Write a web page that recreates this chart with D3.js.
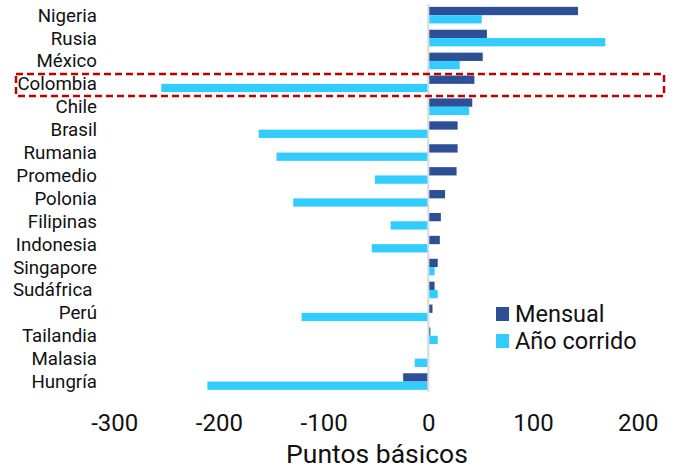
<!DOCTYPE html>
<html>
<head>
<meta charset="utf-8">
<script src="https://cdn.jsdelivr.net/npm/d3@7/dist/d3.min.js"></script>
<style>
  html, body { margin: 0; padding: 0; background: #ffffff; }
  svg { display: block; font-family: Roboto, "Noto Sans", sans-serif; }
</style>
</head>
<body>
<svg id="chart" width="676" height="469"></svg>
<script>
// Change in basis points by country
const countries = ["Nigeria", "Rusia", "México", "Colombia", "Chile", "Brasil", "Rumania",
  "Promedio", "Polonia", "Filipinas", "Indonesia", "Singapore", "Sudáfrica\u00a0", "Perú",
  "Tailandia", "Malasia", "Hungría"];
const mensual = [143, 56, 52, 44, 42, 28, 28, 27, 16, 12, 11, 9, 6, 4, 2, 0, -24];
const anoCorrido = [51, 169, 30, -255, 39, -162, -145, -51, -129, -36, -54, 6, 9, -121, 9, -13, -211];
const seriesNames = ["Mensual", "Año corrido"];
const seriesColors = ["#2C4F96", "#33CCFF"];
const xTicks = [-300, -200, -100, 0, 100, 200];
const highlighted = "Colombia";

const svg = d3.select("#chart");

const x = d3.scaleLinear().domain([-300, 200]).range([114.2, 637.7]);
const y = d3.scaleBand().domain(countries).range([3.7, 393]).paddingInner(0.275).paddingOuter(0.1375);
const sub = d3.scaleBand().domain(seriesNames).range([0, y.bandwidth()]);
const color = d3.scaleOrdinal().domain(seriesNames).range(seriesColors);

const rows = countries.map((c, i) => ({ country: c, values: [mensual[i], anoCorrido[i]] }));

// zero line
svg.append("line")
  .attr("x1", x(0)).attr("x2", x(0))
  .attr("y1", 4).attr("y2", 392)
  .attr("stroke", "#d9d9d9").attr("stroke-width", 2);

// bars
const g = svg.append("g");
rows.forEach(r => {
  seriesNames.forEach((s, j) => {
    const v = r.values[j];
    const x0 = v >= 0 ? x(0) + 1 : x(v);
    const w = Math.abs(x(v) - x(0)) - 1;
    g.append("rect")
      .attr("x", x0)
      .attr("y", y(r.country) + sub(s))
      .attr("width", Math.max(0, w))
      .attr("height", sub.bandwidth())
      .attr("fill", color(s));
  });
});

// category labels
svg.append("g").selectAll("text")
  .data(countries)
  .join("text")
  .attr("x", 97)
  .attr("y", d => y(d) + y.bandwidth() / 2)
  .attr("dy", "0.35em")
  .attr("text-anchor", "end")
  .attr("font-size", 18.7)
  .attr("fill", "#111111")
  .text(d => d);

// x axis tick labels
const axis = d3.axisBottom(x).tickValues(xTicks).tickSize(0).tickPadding(0).tickFormat(d3.format("d"));
const ax = svg.append("g").attr("transform", "translate(0,414)").call(axis);
ax.select(".domain").remove();
ax.selectAll("text")
  .attr("font-size", 24)
  .attr("font-family", "Roboto, sans-serif")
  .attr("fill", "#111111")
  .attr("dy", "0.71em")
  .text(d => d < 0 ? "-" + Math.abs(d) : d);

// axis title
svg.append("text")
  .attr("x", 377).attr("y", 463)
  .attr("text-anchor", "middle")
  .attr("font-size", 26.5)
  .attr("fill", "#111111")
  .text("Puntos básicos");

// highlight box around the Colombia row
svg.append("rect")
  .attr("x", 16).attr("y", y(highlighted) - 1.5)
  .attr("width", 648).attr("height", 22)
  .attr("fill", "none")
  .attr("stroke", "#C00000")
  .attr("stroke-width", 2.5)
  .attr("stroke-dasharray", "7,4");

// legend
const legend = svg.append("g").attr("transform", "translate(496,307)");
seriesNames.forEach((s, i) => {
  const item = legend.append("g").attr("transform", `translate(0,${i * 27})`);
  item.append("rect").attr("width", 13).attr("height", 14).attr("fill", color(s));
  item.append("text")
    .attr("x", 19).attr("y", 15)
    .attr("font-size", 23.5)
    .attr("fill", "#111111")
    .text(s);
});
</script>
</body>
</html>
